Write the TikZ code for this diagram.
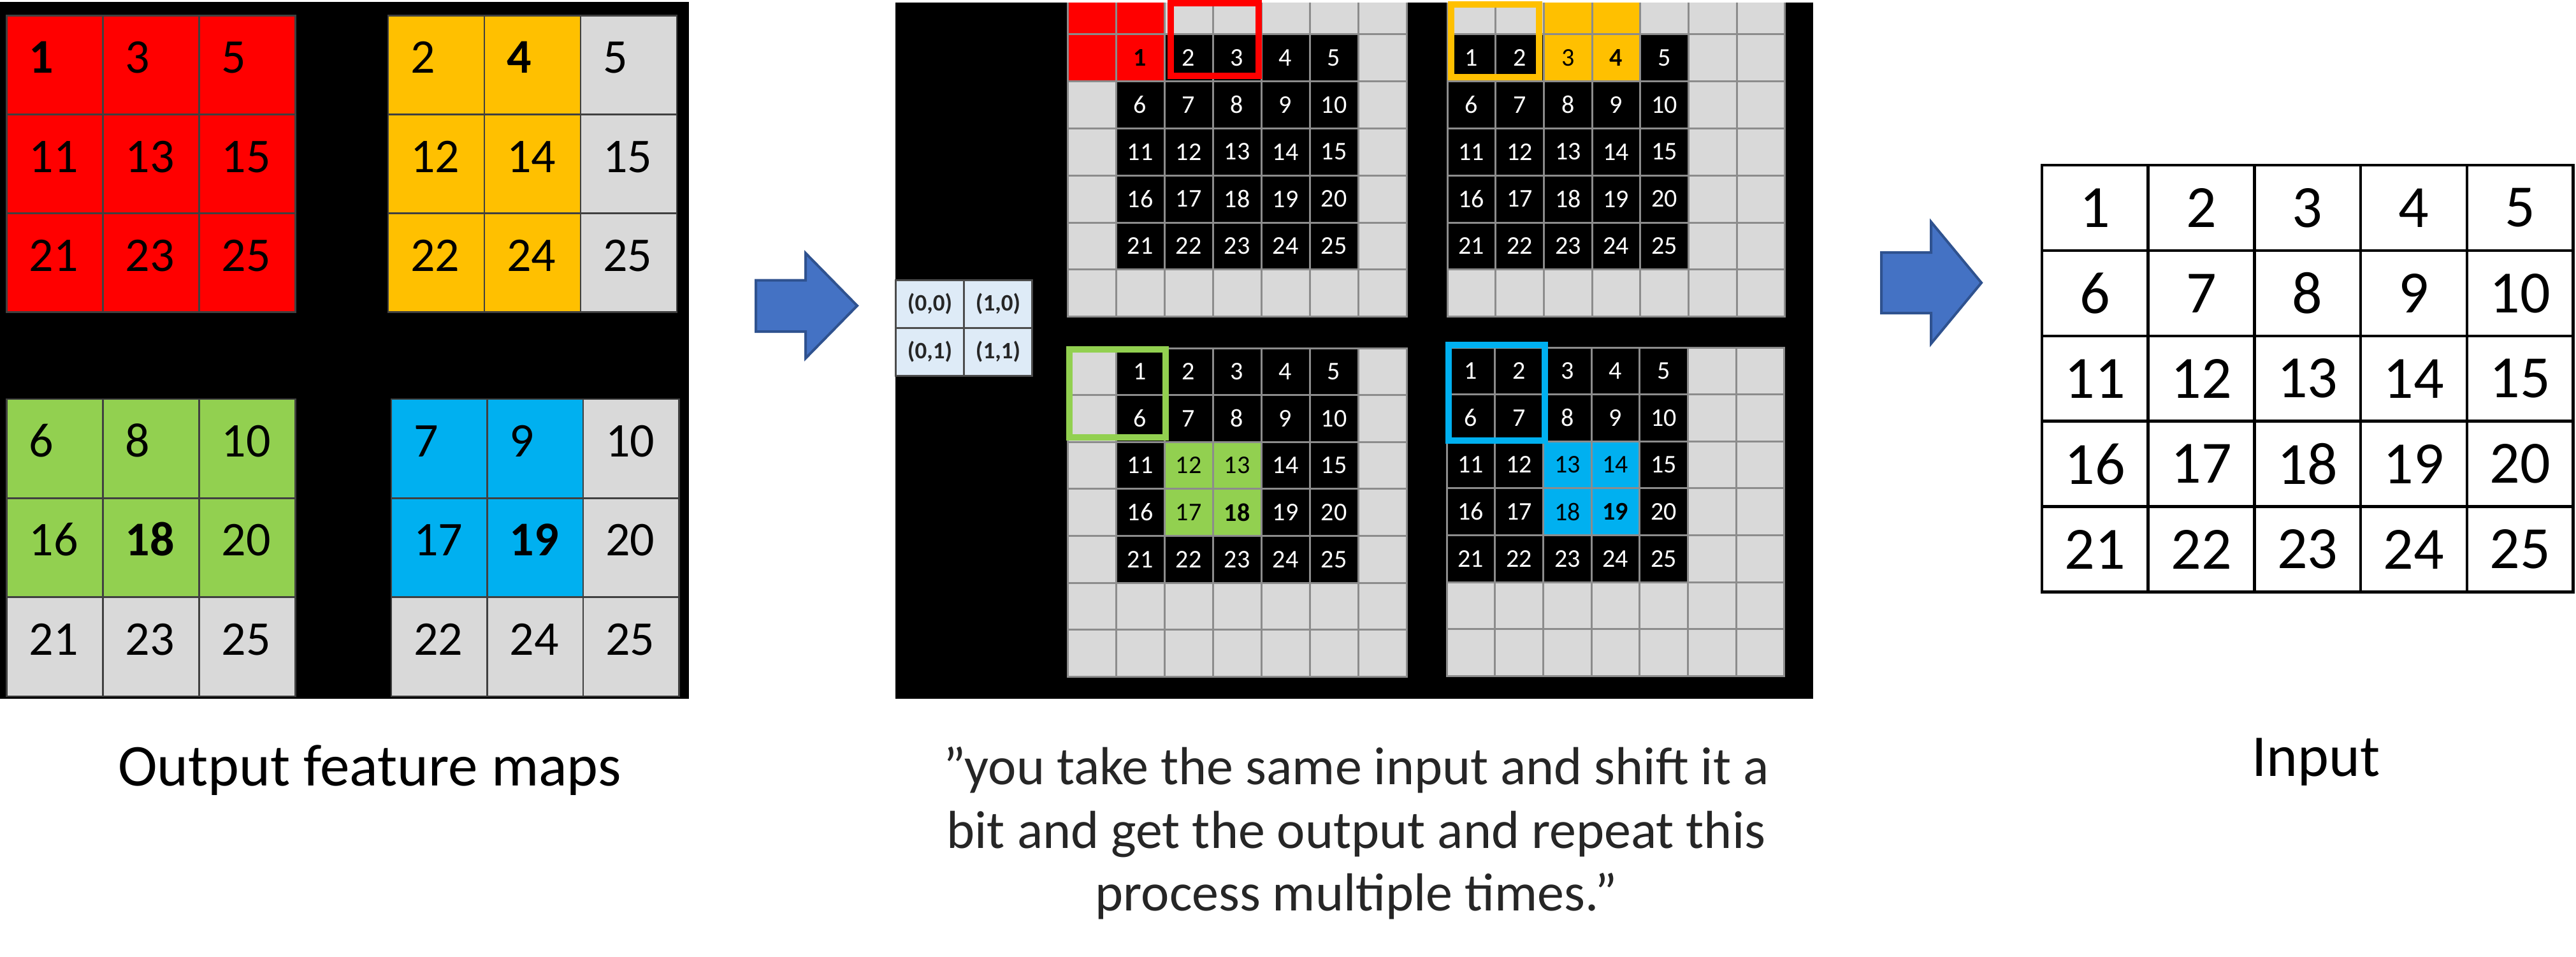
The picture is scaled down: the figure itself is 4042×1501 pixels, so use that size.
\documentclass[tikz,border=0pt]{standalone}
\usepackage{fontspec}
\setmainfont{Carlito}
\definecolor{padgray}{HTML}{D9D9D9}
\definecolor{hlred}{HTML}{FF0000}
\definecolor{hlorange}{HTML}{FFC000}
\definecolor{hlgreen}{HTML}{92D050}
\definecolor{hlblue}{HTML}{00B0F0}
\definecolor{tblue}{HTML}{DEEBF7}
\definecolor{arrfill}{HTML}{4472C4}
\definecolor{arrline}{HTML}{2F528F}
\definecolor{midline}{HTML}{8C8C8C}
\definecolor{captext}{HTML}{262626}
\newcommand\fs[1]{\fontsize{#1}{#1}\selectfont}
\tikzset{
  lcell/.style={draw=black!75, line width=2.5pt, inner sep=0pt, outer sep=0pt},
  ltext/.style={anchor=base west, inner sep=0pt, font=\fs{76}},
  mcell/.style={draw=midline, line width=3pt, inner sep=0pt, outer sep=0pt, font=\fs{40}},
  tcell/.style={draw=black!70, fill=tblue, line width=3pt, minimum width=107pt, minimum height=75pt, inner sep=0pt, font=\bfseries\fs{37}, text=black!85},
  icell/.style={draw=black, line width=4.5pt, minimum width=166.7pt, minimum height=133.9pt, inner sep=0pt, font=\fs{94}},
  captionnode/.style={anchor=base, inner sep=0pt},
  blockarrow/.style={fill=arrfill, draw=arrline, line width=4pt, line join=miter},
  hlbox/.style={line width=10pt},
}
% left 3x3 grid: name, x0, y0, w, h, list
\newcommand\LGrid[6]{%
  \foreach \vv/\ff/\bb [count=\ii from 0] in {#6}{%
    \pgfmathtruncatemacro\rr{floor(\ii/3)}%
    \pgfmathtruncatemacro\cc{\ii-3*\rr}%
    \node[lcell, fill=\ff, minimum width=#4pt, minimum height=#5pt] (#1-\rr-\cc) at ({#2+(\cc+0.5)*#4},{#3+(\rr+0.5)*#5}) {};
    \node[ltext] (#1-t-\rr-\cc) at ({#2+\cc*#4+35},{#3+\rr*#5+90.5}) {\ifnum\bb=1 \bfseries\fi\vv};
  }%
}
% middle 7x7 grid: name, x0, y0, w, h ; uses \ROff \COff \HR \HC \HLC \BoldVal
\newcommand\MGrid[5]{%
  \foreach \rr in {0,...,6}{%
    \foreach \cc in {0,...,6}{%
      \pgfmathtruncatemacro\vr{\rr-\ROff}%
      \pgfmathtruncatemacro\vc{\cc-\COff}%
      \pgfmathtruncatemacro\isval{and(and(\vr>=0,\vr<=4),and(\vc>=0,\vc<=4))}%
      \pgfmathtruncatemacro\ishl{and(and(\rr>=\HR,\rr<=\HR+1),and(\cc>=\HC,\cc<=\HC+1))}%
      \pgfmathtruncatemacro\val{\vr*5+\vc+1}%
      \ifnum\ishl=1 \edef\fillc{\HLC}\def\txtc{black}\else
        \ifnum\isval=1 \def\fillc{black}\def\txtc{white}\else\def\fillc{padgray}\def\txtc{black}\fi\fi
      \node[mcell, fill=\fillc, text=\txtc, minimum width=#4pt, minimum height=#5pt] (#1-\rr-\cc) at ({#2+(\cc+0.5)*#4},{#3+(\rr+0.5)*#5}) {\ifnum\isval=1 \ifnum\val=\BoldVal\relax\bfseries\fi\val\fi};
    }%
  }%
}
\begin{document}
\begin{tikzpicture}[x=1pt,y=-1pt]
\useasboundingbox (0,0) rectangle (4042,1501);
\fill[white] (0,0) rectangle (4042,1501);
% ---------- left panel ----------
\fill[black] (0,3.5) rectangle (1081,1096);
\LGrid{red}{10.5}{24.5}{151}{155}{1/hlred/1, 3/hlred/0, 5/hlred/0, 11/hlred/0, 13/hlred/0, 15/hlred/0, 21/hlred/0, 23/hlred/0, 25/hlred/0}
\LGrid{org}{609}{24.5}{151}{155}{2/hlorange/0, 4/hlorange/1, 5/padgray/0, 12/hlorange/0, 14/hlorange/0, 15/padgray/0, 22/hlorange/0, 24/hlorange/0, 25/padgray/0}
\LGrid{grn}{10.5}{626}{151}{155.3}{6/hlgreen/0, 8/hlgreen/0, 10/hlgreen/0, 16/hlgreen/0, 18/hlgreen/1, 20/hlgreen/0, 21/padgray/0, 23/padgray/0, 25/padgray/0}
\LGrid{blu}{614}{626}{150.5}{155.3}{7/hlblue/0, 9/hlblue/0, 10/padgray/0, 17/hlblue/0, 19/hlblue/1, 20/padgray/0, 22/padgray/0, 24/padgray/0, 25/padgray/0}
% ---------- arrow 1 ----------
\path[blockarrow] (1186,439.5) -- (1264,439.5) -- (1264,397) -- (1345,479.5) -- (1264,562) -- (1264,520) -- (1186,520) -- cycle;
% ---------- middle panel ----------
\fill[black] (1404.5,4.5) rectangle (2845,1096);
\begin{scope}
\clip (1404.5,4.5) rectangle (2845,1096);
\def\ROff{1}\def\COff{1}\def\HR{0}\def\HC{0}\def\HLC{hlred}\def\BoldVal{1}
\MGrid{tl}{1675}{-20.5}{76}{73.9}
\def\ROff{1}\def\COff{0}\def\HR{0}\def\HC{2}\def\HLC{hlorange}\def\BoldVal{4}
\MGrid{tr}{2271}{-20.5}{75.7}{73.9}
\end{scope}
\def\ROff{0}\def\COff{1}\def\HR{2}\def\HC{2}\def\HLC{hlgreen}\def\BoldVal{18}
\MGrid{bl}{1675}{546}{76}{73.6}
\def\ROff{0}\def\COff{0}\def\HR{2}\def\HC{2}\def\HLC{hlblue}\def\BoldVal{19}
\MGrid{br}{2270}{545}{75.7}{73.6}
\draw[hlbox, draw=hlred] (1837,5) rectangle (1974.5,119);
\draw[hlbox, draw=hlorange] (2277,7.5) rectangle (2414.5,121.5);
\draw[hlbox, draw=hlgreen] (1678,548.3) rectangle (1829.4,686);
\draw[hlbox, draw=hlblue] (2273,541) rectangle (2424,691);
% offset table
\node[tcell] (t00) at (1459,477) {(0,0)};
\node[tcell] (t10) at (1566,477) {(1,0)};
\node[tcell] (t01) at (1459,551.5) {(0,1)};
\node[tcell] (t11) at (1566,551.5) {(1,1)};
% ---------- arrow 2 ----------
\path[blockarrow] (2952,396) -- (3030,396) -- (3030,348) -- (3109,443.5) -- (3030,539) -- (3030,491) -- (2952,491) -- cycle;
% ---------- input grid ----------
\foreach \rr in {0,...,4}{%
  \foreach \cc in {0,...,4}{%
    \pgfmathtruncatemacro\val{\rr*5+\cc+1}%
    \node[icell] (in-\rr-\cc) at ({3204+(\cc+0.5)*166.7},{259+(\rr+0.5)*133.9}) {\val};
  }%
}
% ---------- captions ----------
\node[captionnode, font=\fs{93}] (capout) at (580,1232) {Output feature maps};
\node[captionnode, font=\fs{84}, text=captext] (capm1) at (2128,1230) {”you take the same input and shift it a};
\node[captionnode, font=\fs{84}, text=captext] (capm2) at (2128,1330) {bit and get the output and repeat this};
\node[captionnode, font=\fs{84}, text=captext] (capm3) at (2128,1428) {process multiple times.”};
\node[captionnode, font=\fs{93}] (capin) at (3634,1217) {Input};
\end{tikzpicture}
\end{document}
